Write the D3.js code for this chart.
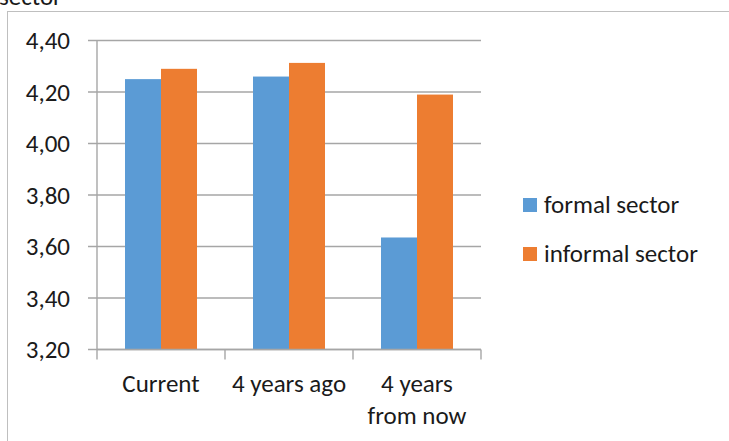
<!DOCTYPE html>
<html><head><meta charset="utf-8">
<script src="https://cdn.jsdelivr.net/npm/d3@7"></script>
<style>
html,body{margin:0;padding:0;background:#fff;}
svg{display:block;}
text{font-family:Carlito,Lato,"Open Sans",sans-serif;fill:#1a1a1a;}
</style></head>
<body><svg id="c" width="729" height="441"></svg>
<script>
const categories = [["Current"], ["4 years ago"], ["4 years", "from now"]];
const seriesNames = ["formal sector", "informal sector"];
const formalValues = [4.25, 4.26, 3.635];
const informalValues = [4.29, 4.313, 4.19];
const yTicks = [3.20, 3.40, 3.60, 3.80, 4.00, 4.20, 4.40];
const colors = ["#5B9BD5", "#ED7D31"];

const svg = d3.select("#c");
const FS = 25;
const pLeft = 97, pRight = 481, pTop = 40.5, pBottom = 349.5;

// outer chart border
svg.append("rect").attr("x", 7.5).attr("y", 11.5).attr("width", 760).attr("height", 460)
  .attr("fill", "none").attr("stroke", "#bfbfbf").attr("stroke-width", 1);

// title remnant
svg.append("text").attr("x", -1).attr("y", 5).attr("font-size", FS).text("sector");

const y = d3.scaleLinear().domain([3.2, 4.4]).range([pBottom, pTop]);
const x0 = d3.scaleBand().domain(categories.map((d, i) => i)).range([pLeft, pRight]).paddingInner(0.4375).paddingOuter(0.21875);
const x1 = d3.scaleBand().domain([0, 1]).range([0, x0.bandwidth()]);

// gridlines
const fmt = d => d.toFixed(2).replace(".", ",");
svg.append("g").selectAll("line").data(yTicks).join("line")
  .attr("x1", pLeft - 9).attr("x2", pRight).attr("y1", d => y(d)).attr("y2", d => y(d))
  .attr("stroke", "#a6a6a6").attr("stroke-width", 1.4);

// y axis
svg.append("line").attr("x1", pLeft).attr("x2", pLeft).attr("y1", pTop).attr("y2", pBottom)
  .attr("stroke", "#a6a6a6").attr("stroke-width", 1.4);
svg.append("g").selectAll("text").data(yTicks).join("text")
  .attr("x", 70).attr("y", d => y(d)).attr("dy", "0.35em").attr("text-anchor", "end")
  .attr("font-size", FS).text(fmt);

// bars
const data = categories.map((c, i) => [formalValues[i], informalValues[i]]);
const g = svg.append("g");
data.forEach((vals, i) => {
  g.selectAll(null).data(vals).join("rect")
    .attr("x", (d, j) => x0(i) + x1(j)).attr("width", x1.bandwidth())
    .attr("y", d => y(d)).attr("height", d => y(3.2) - y(d))
    .attr("fill", (d, j) => colors[j]);
});

// x axis
const xb = d3.scaleLinear().domain([0, categories.length]).range([pLeft, pRight]);
svg.append("line").attr("x1", pLeft).attr("x2", pRight).attr("y1", pBottom).attr("y2", pBottom)
  .attr("stroke", "#a6a6a6").attr("stroke-width", 1.4);
svg.append("g").selectAll("line").data(d3.range(categories.length + 1)).join("line")
  .attr("x1", d => xb(d)).attr("x2", d => xb(d)).attr("y1", pBottom).attr("y2", pBottom + 10)
  .attr("stroke", "#a6a6a6").attr("stroke-width", 1.4);

const xl = svg.append("g");
categories.forEach((lines, i) => {
  const cx = xb(i + 0.5);
  lines.forEach((ln, k) => {
    xl.append("text").attr("x", cx).attr("y", 392 + k * 32).attr("text-anchor", "middle")
      .attr("font-size", FS).text(ln);
  });
});

// legend
const lg = svg.append("g");
seriesNames.forEach((n, i) => {
  lg.append("rect").attr("x", 523).attr("y", 198 + i * 49).attr("width", 14).attr("height", 14).attr("fill", colors[i]);
  lg.append("text").attr("x", 544).attr("y", 212.5 + i * 49).attr("font-size", FS).text(n);
});
</script></body></html>
